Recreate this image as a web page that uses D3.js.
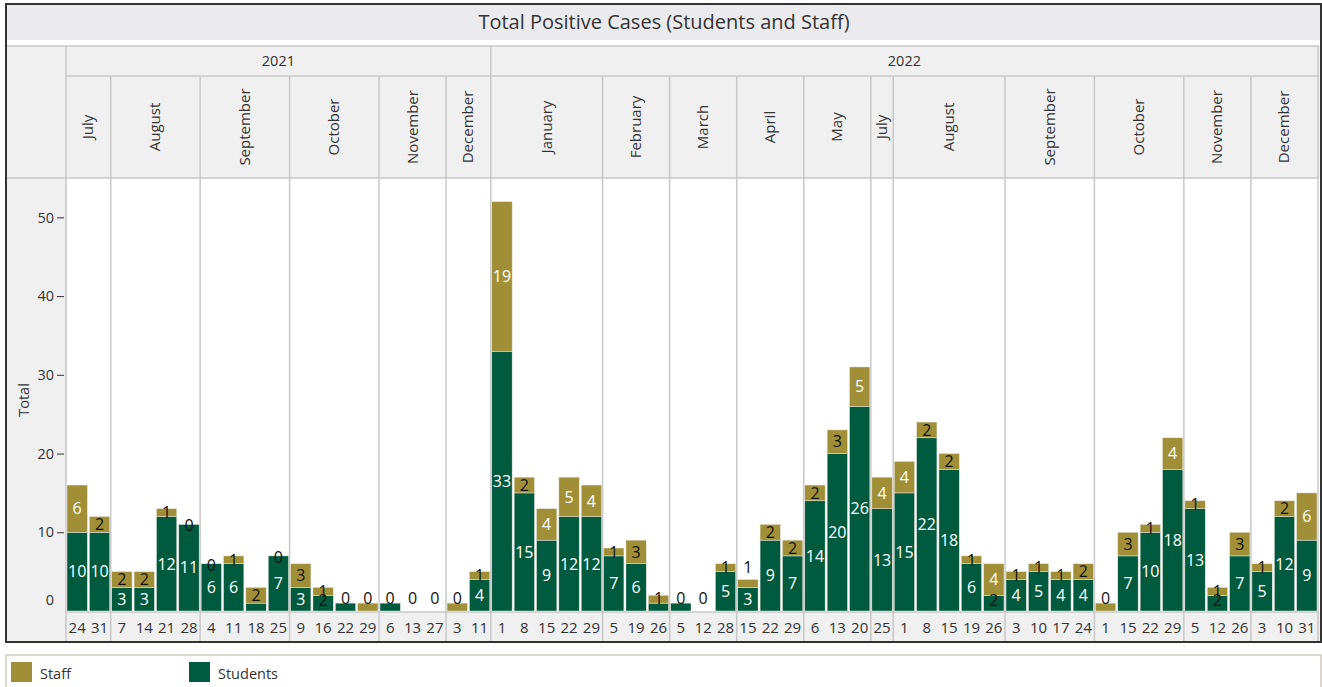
<!DOCTYPE html>
<html>
<head>
<meta charset="utf-8">
<script src="https://cdn.jsdelivr.net/npm/d3@7"></script>
<style>
  body { margin: 0; background: #fff; font-family: "Open Sans", "Noto Sans", sans-serif; }
  svg text { fill: #333; }
</style>
</head>
<body>
<script>
// month groups along the x axis
var monthYears  = ["2021","2021","2021","2021","2021","2021",
                   "2022","2022","2022","2022","2022","2022","2022","2022","2022","2022","2022"];
var monthNames  = ["July","August","September","October","November","December",
                   "January","February","March","April","May","July","August","September","October","November","December"];
var monthCounts = [2,4,4,4,3,2, 5,3,3,3,3,1,5,4,4,3,3];

// one entry per week
var days = [24,31, 7,14,21,28, 4,11,18,25, 9,16,22,29, 6,13,27, 3,11,
            1,8,15,22,29, 5,19,26, 5,12,28, 15,22,29, 6,13,20, 25,
            1,8,15,19,26, 3,10,17,24, 1,15,22,29, 5,12,26, 3,10,31];
var students = [10,10, 3,3,12,11, 6,6,1,7, 3,2,1,0, 1,0,0, 0,4,
                33,15,9,12,12, 7,6,1, 1,0,5, 3,9,7, 14,20,26, 13,
                15,22,18,6,2, 4,5,4,4, 0,7,10,18, 13,2,7, 5,12,9];
var staff    = [6,2, 2,2,1,0, 0,1,2,0, 3,1,0,1, 0,0,0, 1,1,
                19,2,4,5,4, 1,3,1, 0,0,1, 1,2,2, 2,3,5, 4,
                4,2,2,1,4, 1,1,1,2, 1,3,1,4, 1,1,3, 1,2,6];
var yTicks = [0,10,20,30,40,50];

var gold = "#a08f36", green = "#005a3e", grid = "#c8c8c8", panel = "#f0f0f0";

var W = 1322, H = 687;
var left = 66, right = 1318, plotTop = 178, plotBottom = 612;

var svg = d3.select("body").append("svg").attr("width", W).attr("height", H);

// build bar table
var bars = days.map(function(d, i) { return {i: i, day: d, st: students[i], sf: staff[i]}; });
var months = [], pos = 0;
monthNames.forEach(function(m, k) {
  months.push({name: m, year: monthYears[k], start: pos, end: pos + monthCounts[k]});
  pos += monthCounts[k];
});
var years = d3.groups(months, function(m) { return m.year; }).map(function(g) {
  return {year: g[0], start: g[1][0].start, end: g[1][g[1].length - 1].end};
});

var x = d3.scaleLinear().domain([0, days.length]).range([left, right]);
var band = (right - left) / days.length;
var y = d3.scaleLinear().domain([0, 55]).range([611, plotTop]);

// title band
svg.append("rect").attr("x", 6).attr("y", 4).attr("width", 1315).attr("height", 638)
  .attr("fill", "#fff").attr("stroke", "#333").attr("stroke-width", 2);
svg.append("rect").attr("x", 7).attr("y", 5).attr("width", 1313).attr("height", 35).attr("fill", "#ebebee");
svg.append("text").attr("x", 664).attr("y", 29).attr("text-anchor", "middle")
  .style("font-size", "20px").text("Total Positive Cases (Students and Staff)");

// gray panels
svg.append("rect").attr("x", 7).attr("y", 46).attr("width", 1313).attr("height", plotTop - 46).attr("fill", panel);
svg.append("rect").attr("x", 7).attr("y", 46).attr("width", left - 7).attr("height", 642 - 46 - 1).attr("fill", panel);
svg.append("rect").attr("x", 7).attr("y", plotBottom).attr("width", 1313).attr("height", 29).attr("fill", panel);

// grid lines
function hline(yy, x1) {
  svg.append("line").attr("x1", x1).attr("x2", 1319).attr("y1", yy).attr("y2", yy).attr("stroke", grid).attr("stroke-width", 1.5);
}
hline(46, 7); hline(76, left); hline(plotTop, 7); hline(plotBottom, left);

svg.selectAll("line.mon").data(months).enter().append("line")
  .attr("x1", function(m) { return x(m.start); }).attr("x2", function(m) { return x(m.start); })
  .attr("y1", 76).attr("y2", 641).attr("stroke", grid).attr("stroke-width", 1.5);
svg.selectAll("line.yr").data(years).enter().append("line")
  .attr("x1", function(d) { return x(d.start); }).attr("x2", function(d) { return x(d.start); })
  .attr("y1", 46).attr("y2", 76).attr("stroke", grid).attr("stroke-width", 1.5);
svg.append("line").attr("x1", right).attr("x2", right).attr("y1", 46).attr("y2", 641).attr("stroke", grid).attr("stroke-width", 1.5);

// header texts
svg.selectAll("text.yr").data(years).enter().append("text")
  .attr("x", function(d) { return (x(d.start) + x(d.end)) / 2; }).attr("y", 66)
  .attr("text-anchor", "middle").style("font-size", "14.5px").text(function(d) { return d.year; });
svg.selectAll("text.mon").data(months).enter().append("text")
  .attr("transform", function(m) { return "translate(" + ((x(m.start) + x(m.end)) / 2 + 5) + ",127) rotate(-90)"; })
  .attr("text-anchor", "middle").style("font-size", "15px").text(function(m) { return m.name; });
svg.selectAll("text.day").data(bars).enter().append("text")
  .attr("x", function(d) { return x(d.i) + band / 2; }).attr("y", 633)
  .attr("text-anchor", "middle").style("font-size", "15px").text(function(d) { return d.day; });

// y axis
var yAxis = svg.append("g").attr("transform", "translate(64,0)")
  .call(d3.axisLeft(y).tickValues(yTicks).tickSize(7).tickPadding(3));
yAxis.select(".domain").remove();
yAxis.selectAll("line").attr("stroke", "#333");
yAxis.selectAll("text").style("font-size", "14.5px").style("font-family", "'Open Sans', sans-serif").attr("fill", "#333");
yAxis.selectAll(".tick").filter(function(d) { return d === 0; }).select("line").remove();
yAxis.selectAll(".tick").filter(function(d) { return d === 0; }).select("text").attr("dy", "-0.45em");
svg.append("text").attr("transform", "translate(29,400) rotate(-90)").attr("text-anchor", "middle")
  .style("font-size", "14.5px").text("Total");

// bars
var bw = band - 2;
var g = svg.append("g");
g.selectAll("rect.st").data(bars.filter(function(d) { return d.st > 0; })).enter().append("rect")
  .attr("x", function(d) { return x(d.i) + 1; }).attr("width", bw)
  .attr("y", function(d) { return y(d.st); }).attr("height", function(d) { return y(0) - y(d.st); })
  .attr("fill", green).attr("stroke", "#e8e8e0").attr("stroke-width", 0.5);
g.selectAll("rect.sf").data(bars.filter(function(d) { return d.sf > 0; })).enter().append("rect")
  .attr("x", function(d) { return x(d.i) + 1; }).attr("width", bw)
  .attr("y", function(d) { return y(d.st + d.sf); }).attr("height", function(d) { return y(d.st) - y(d.st + d.sf); })
  .attr("fill", gold).attr("stroke", "#e8e8e0").attr("stroke-width", 0.5);

// labels: small segments get dark text, sitting on the segment (clamped above the baseline)
var labels = [];
bars.forEach(function(d) {
  var cx = x(d.i) + band / 2;
  if (d.st === 0) {
    labels.push({x: cx, y: 598, t: "0", c: "#111"});
    return;
  }
  var sy = null;
  if (d.st >= 2) {
    sy = Math.min((y(0) + y(d.st)) / 2, 600);
    labels.push({x: cx, y: sy, t: d.st, c: d.st >= 3 ? "#fff" : "#111"});
  }
  if (d.sf === 0) {
    labels.push({x: cx, y: Math.min(y(d.st) + 1, 598), t: "0", c: "#111"});
  } else {
    var fy = Math.min((y(d.st) + y(d.st + d.sf)) / 2, 598);
    // push a small staff label above the bar when it would sit on the students label
    if (d.st >= 3 && sy !== null && sy - fy < 17) fy = y(d.st + d.sf) - 12;
    labels.push({x: cx, y: fy, t: d.sf, c: d.sf >= 4 ? "#fff" : "#111"});
  }
});
g.selectAll("text.lab").data(labels).enter().append("text")
  .attr("x", function(d) { return d.x; }).attr("y", function(d) { return d.y; })
  .attr("dy", "0.36em").attr("text-anchor", "middle").style("font-size", "16px")
  .style("fill", function(d) { return d.c; }).text(function(d) { return d.t; });

// legend
svg.append("rect").attr("x", 6).attr("y", 655).attr("width", 1315).attr("height", 40)
  .attr("fill", "#fff").attr("stroke", "#cfcabb").attr("stroke-width", 1.5);
var legend = [{name: "Staff", color: gold, x: 11}, {name: "Students", color: green, x: 189}];
var lg = svg.selectAll("g.leg").data(legend).enter().append("g");
lg.append("rect").attr("x", function(d) { return d.x; }).attr("y", 662).attr("width", 21).attr("height", 20)
  .attr("fill", function(d) { return d.color; });
lg.append("text").attr("x", function(d) { return d.x + 29; }).attr("y", 679)
  .style("font-size", "14.5px").text(function(d) { return d.name; });
</script>
</body>
</html>
